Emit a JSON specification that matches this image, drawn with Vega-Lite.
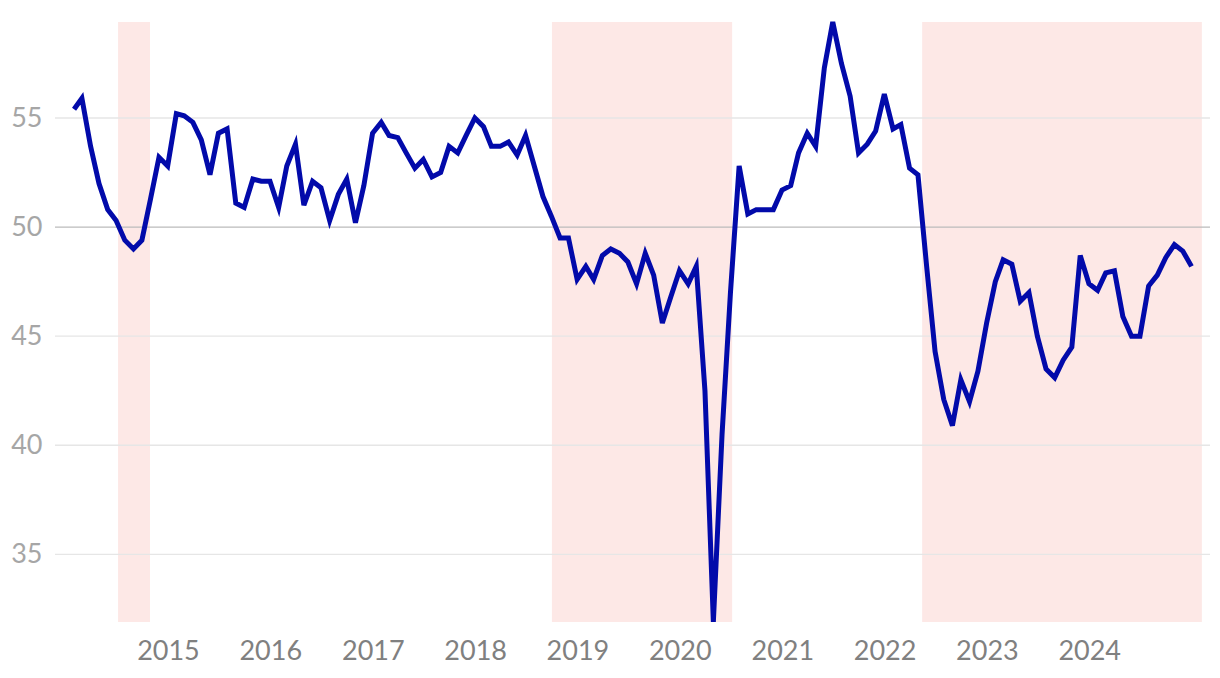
{
  "$schema": "https://vega.github.io/schema/vega-lite/v6.json",
  "width": 1155,
  "height": 600,
  "autosize": {"type": "none"},
  "padding": {"left": 55, "top": 22, "right": 10, "bottom": 56},
  "background": "white",
  "config": {"view": {"stroke": null}, "font": "Lato"},
  "datasets": {
    "pmi": [
      {"date": "2014-01-31", "value": 55.4}, {"date": "2014-02-28", "value": 55.9}, {"date": "2014-03-31", "value": 53.7}, {"date": "2014-04-30", "value": 52.0},
      {"date": "2014-05-31", "value": 50.8}, {"date": "2014-06-30", "value": 50.3}, {"date": "2014-07-31", "value": 49.4}, {"date": "2014-08-31", "value": 49.0},
      {"date": "2014-09-30", "value": 49.4}, {"date": "2014-10-31", "value": 51.3}, {"date": "2014-11-30", "value": 53.2}, {"date": "2014-12-31", "value": 52.8},
      {"date": "2015-01-31", "value": 55.2}, {"date": "2015-02-28", "value": 55.1}, {"date": "2015-03-31", "value": 54.8}, {"date": "2015-04-30", "value": 54.0},
      {"date": "2015-05-31", "value": 52.4}, {"date": "2015-06-30", "value": 54.3}, {"date": "2015-07-31", "value": 54.5}, {"date": "2015-08-31", "value": 51.1},
      {"date": "2015-09-30", "value": 50.9}, {"date": "2015-10-31", "value": 52.2}, {"date": "2015-11-30", "value": 52.1}, {"date": "2015-12-31", "value": 52.1},
      {"date": "2016-01-31", "value": 50.9}, {"date": "2016-02-29", "value": 52.8}, {"date": "2016-03-31", "value": 53.8}, {"date": "2016-04-30", "value": 51.0},
      {"date": "2016-05-31", "value": 52.1}, {"date": "2016-06-30", "value": 51.8}, {"date": "2016-07-31", "value": 50.3}, {"date": "2016-08-31", "value": 51.5},
      {"date": "2016-09-30", "value": 52.2}, {"date": "2016-10-31", "value": 50.2}, {"date": "2016-11-30", "value": 51.9}, {"date": "2016-12-31", "value": 54.3},
      {"date": "2017-01-31", "value": 54.8}, {"date": "2017-02-28", "value": 54.2}, {"date": "2017-03-31", "value": 54.1}, {"date": "2017-04-30", "value": 53.4},
      {"date": "2017-05-31", "value": 52.7}, {"date": "2017-06-30", "value": 53.1}, {"date": "2017-07-31", "value": 52.3}, {"date": "2017-08-31", "value": 52.5},
      {"date": "2017-09-30", "value": 53.7}, {"date": "2017-10-31", "value": 53.4}, {"date": "2017-11-30", "value": 54.2}, {"date": "2017-12-31", "value": 55.0},
      {"date": "2018-01-31", "value": 54.6}, {"date": "2018-02-28", "value": 53.7}, {"date": "2018-03-31", "value": 53.7}, {"date": "2018-04-30", "value": 53.9},
      {"date": "2018-05-31", "value": 53.3}, {"date": "2018-06-30", "value": 54.2}, {"date": "2018-07-31", "value": 52.8}, {"date": "2018-08-31", "value": 51.4},
      {"date": "2018-09-30", "value": 50.5}, {"date": "2018-10-31", "value": 49.5}, {"date": "2018-11-30", "value": 49.5}, {"date": "2018-12-31", "value": 47.6},
      {"date": "2019-01-31", "value": 48.2}, {"date": "2019-02-28", "value": 47.6}, {"date": "2019-03-31", "value": 48.7}, {"date": "2019-04-30", "value": 49.0},
      {"date": "2019-05-31", "value": 48.8}, {"date": "2019-06-30", "value": 48.4}, {"date": "2019-07-31", "value": 47.4}, {"date": "2019-08-31", "value": 48.8},
      {"date": "2019-09-30", "value": 47.8}, {"date": "2019-10-31", "value": 45.6}, {"date": "2019-11-30", "value": 46.8}, {"date": "2019-12-31", "value": 48.0},
      {"date": "2020-01-31", "value": 47.4}, {"date": "2020-02-29", "value": 48.2}, {"date": "2020-03-31", "value": 42.5}, {"date": "2020-04-30", "value": 31.9},
      {"date": "2020-05-31", "value": 40.5}, {"date": "2020-06-30", "value": 47.0}, {"date": "2020-07-31", "value": 52.8}, {"date": "2020-08-31", "value": 50.6},
      {"date": "2020-09-30", "value": 50.8}, {"date": "2020-10-31", "value": 50.8}, {"date": "2020-11-30", "value": 50.8}, {"date": "2020-12-31", "value": 51.7},
      {"date": "2021-01-31", "value": 51.9}, {"date": "2021-02-28", "value": 53.4}, {"date": "2021-03-31", "value": 54.3}, {"date": "2021-04-30", "value": 53.7},
      {"date": "2021-05-31", "value": 57.3}, {"date": "2021-06-30", "value": 59.4}, {"date": "2021-07-31", "value": 57.5}, {"date": "2021-08-31", "value": 56.0},
      {"date": "2021-09-30", "value": 53.4}, {"date": "2021-10-31", "value": 53.8}, {"date": "2021-11-30", "value": 54.4}, {"date": "2021-12-31", "value": 56.1},
      {"date": "2022-01-31", "value": 54.5}, {"date": "2022-02-28", "value": 54.7}, {"date": "2022-03-31", "value": 52.7}, {"date": "2022-04-30", "value": 52.4},
      {"date": "2022-05-31", "value": 48.2}, {"date": "2022-06-30", "value": 44.3}, {"date": "2022-07-31", "value": 42.1}, {"date": "2022-08-31", "value": 40.9},
      {"date": "2022-09-30", "value": 43.0}, {"date": "2022-10-31", "value": 42.0}, {"date": "2022-11-30", "value": 43.4}, {"date": "2022-12-31", "value": 45.6},
      {"date": "2023-01-31", "value": 47.5}, {"date": "2023-02-28", "value": 48.5}, {"date": "2023-03-31", "value": 48.3}, {"date": "2023-04-30", "value": 46.6},
      {"date": "2023-05-31", "value": 47.0}, {"date": "2023-06-30", "value": 45.0}, {"date": "2023-07-31", "value": 43.5}, {"date": "2023-08-31", "value": 43.1},
      {"date": "2023-09-30", "value": 43.9}, {"date": "2023-10-31", "value": 44.5}, {"date": "2023-11-30", "value": 48.7}, {"date": "2023-12-31", "value": 47.4},
      {"date": "2024-01-31", "value": 47.1}, {"date": "2024-02-29", "value": 47.9}, {"date": "2024-03-31", "value": 48.0}, {"date": "2024-04-30", "value": 45.9},
      {"date": "2024-05-31", "value": 45.0}, {"date": "2024-06-30", "value": 45.0}, {"date": "2024-07-31", "value": 47.3}, {"date": "2024-08-31", "value": 47.8},
      {"date": "2024-09-30", "value": 48.6}, {"date": "2024-10-31", "value": 49.2}, {"date": "2024-11-30", "value": 48.9}, {"date": "2024-12-31", "value": 48.2}
    ],
    "shade": [
      {"start": "2014-07-07", "end": "2014-10-29"},
      {"start": "2018-10-02", "end": "2020-07-06"},
      {"start": "2022-05-15", "end": "2025-02-06"}
    ],
    "grid": [
      {"level": 35}, {"level": 40}, {"level": 45}, {"level": 50}, {"level": 55}
    ]
  },
  "layer": [
    {
      "data": {"name": "shade"},
      "mark": {"type": "rect", "color": "#fde8e6"},
      "encoding": {
        "x": {
          "field": "start", "type": "temporal",
          "scale": {"type": "utc", "domain": [{"year": 2013, "month": 11, "date": 24, "utc": true}, {"year": 2025, "month": 3, "date": 7, "utc": true}]},
          "axis": {
            "title": null, "format": "%Y", "grid": false, "domain": false, "ticks": false,
            "labelFontSize": 27, "labelColor": "#808080", "labelPadding": 16, "labelFlush": false, "labelOverlap": false,
            "values": [
              {"year": 2015, "month": 1, "date": 1, "utc": true}, {"year": 2016, "month": 1, "date": 1, "utc": true},
              {"year": 2017, "month": 1, "date": 1, "utc": true}, {"year": 2018, "month": 1, "date": 1, "utc": true},
              {"year": 2019, "month": 1, "date": 1, "utc": true}, {"year": 2020, "month": 1, "date": 1, "utc": true},
              {"year": 2021, "month": 1, "date": 1, "utc": true}, {"year": 2022, "month": 1, "date": 1, "utc": true},
              {"year": 2023, "month": 1, "date": 1, "utc": true}, {"year": 2024, "month": 1, "date": 1, "utc": true}
            ]
          }
        },
        "x2": {"field": "end"}
      }
    },
    {
      "data": {"name": "grid"},
      "mark": {"type": "rule", "strokeWidth": 1.3},
      "encoding": {
        "y": {
          "field": "level", "type": "quantitative",
          "scale": {"domain": [31.9, 59.4], "nice": false, "zero": false},
          "axis": {
            "title": null, "values": [35, 40, 45, 50, 55], "grid": false, "domain": false, "ticks": false,
            "labelFontSize": 27, "labelColor": "#a6a6a6", "labelPadding": 13, "labelFlush": false
          }
        },
        "color": {"condition": {"test": "datum.level === 50", "value": "#bbbbbb"}, "value": "#e6e6e6"}
      }
    },
    {
      "data": {"name": "pmi"},
      "mark": {"type": "line", "color": "#020aaa", "strokeWidth": 5},
      "encoding": {
        "x": {"field": "date", "type": "temporal"},
        "y": {"field": "value", "type": "quantitative"}
      }
    }
  ]
}
